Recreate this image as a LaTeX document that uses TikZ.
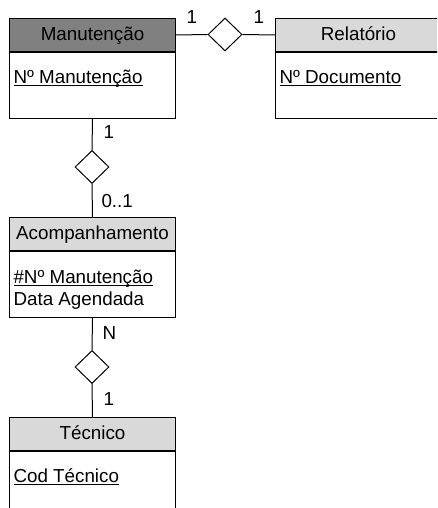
\documentclass[tikz,border=0pt]{standalone}
\usepackage{fontspec}
\setmainfont{Liberation Sans}
\usetikzlibrary{shapes.geometric}

\definecolor{cabecaescura}{RGB}{128,128,128}
\definecolor{cabecaclara}{RGB}{217,217,217}

% chave sublinhada, traco logo abaixo da linha de base
\newcommand{\chave}[1]{\setbox0\hbox{#1}\rlap{\rule[-2.5pt]{\wd0}{1pt}}\box0}

\begin{document}
\begin{tikzpicture}[x=1pt,y=-1pt,line width=1pt,
    font=\fontsize{18.8}{22}\selectfont,
    cabeca/.style={draw,anchor=north west,minimum width=166pt,minimum height=33pt,
      inner sep=0pt,text height=13.5pt,text depth=2.5pt},
    corpo/.style={draw,anchor=north west,minimum width=166pt,minimum height=66pt,inner sep=0pt},
    atrib/.style={anchor=base west,inner sep=0pt},
    relac/.style={draw,diamond,fill=white,minimum width=34pt,minimum height=33pt,inner sep=0pt},
    card/.style={anchor=base west,inner sep=0pt}]
      \useasboundingbox (0,0) rectangle (437,508);
      \clip (0,0) rectangle (437,508);

      % entidades
      \node[cabeca,fill=cabecaescura] (manut) at (9,18) {Manutenção};
      \node[corpo] (manutcorpo) at (manut.south west) {};
      \node[atrib] (manutnum) at ([shift={(4,32)}]manutcorpo.north west) {\chave{Nº Manutenção}};

      \node[cabeca,fill=cabecaclara] (relat) at (275,18) {Relatório};
      \node[corpo] (relatcorpo) at (relat.south west) {};
      \node[atrib] (relatdoc) at ([shift={(4,32)}]relatcorpo.north west) {\chave{Nº Documento}};

      \node[cabeca,fill=cabecaclara] (acomp) at (9,217) {Acompanhamento};
      \node[corpo] (acompcorpo) at (acomp.south west) {};
      \node[atrib] (acompnum) at ([shift={(4,32)}]acompcorpo.north west) {\chave{\#Nº Manutenção}};
      \node[atrib] (acompdata) at ([shift={(4,54)}]acompcorpo.north west) {Data Agendada};

      \node[cabeca,fill=cabecaclara] (tecnico) at (9,417) {Técnico};
      \node[corpo] (tecnicocorpo) at (tecnico.south west) {};
      \node[atrib] (tecnicocod) at ([shift={(4,31)}]tecnicocorpo.north west) {\chave{Cod Técnico}};

      % relacionamentos
      \node[relac] (manutrelat) at (225,34.5) {};
      \node[relac] (manutacomp) at (92,167) {};
      \node[relac] (acomptecnico) at (92,367) {};

      \draw (manut.east) -- (manutrelat.west);
      \draw (manutrelat.east) -- (relat.west);
      \draw (manutcorpo.south) -- (manutacomp.north);
      \draw (manutacomp.south) -- (acomp.north);
      \draw (acompcorpo.south) -- (acomptecnico.north);
      \draw (acomptecnico.south) -- (tecnico.north);

      % cardinalidades
      \node[card] (cardmanut) at (186,24) {1};
      \node[card] (cardrelat) at (253,24) {1};
      \node[card] (cardmanutb) at (103,139) {1};
      \node[card] (cardacomp) at (101,207) {0..1};
      \node[card] (cardacompb) at (102,339) {N};
      \node[card] (cardtecnico) at (103,405) {1};
    \end{tikzpicture}
\end{document}
